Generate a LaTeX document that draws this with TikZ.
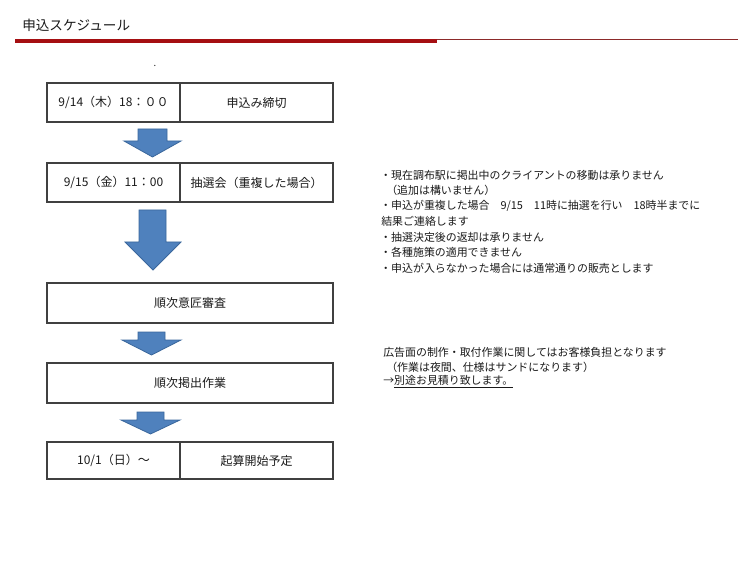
\documentclass[tikz,border=0pt]{standalone}
\usepackage{fontspec}
\setmainfont{Noto Sans CJK JP}
\definecolor{barred}{HTML}{A50F12}
\definecolor{thinred}{HTML}{8C2A2A}
\definecolor{boxline}{HTML}{404040}
\definecolor{arrowfill}{HTML}{4F81BD}
\definecolor{arrowline}{HTML}{3A679C}
\definecolor{txt}{HTML}{1A1A1A}
\begin{document}
\begin{tikzpicture}[x=0.75pt,y=-0.75pt,
  boxdraw/.style={draw=boxline,line width=0.8pt},
  celltext/.style={inner sep=0pt,text=txt,font=\fontsize{9pt}{11pt}\selectfont},
  blockarrow/.style={fill=arrowfill,draw=arrowline,line width=0.6pt,line join=miter},
  note/.style={anchor=west,inner sep=0pt,text=txt,font=\fontsize{8.2pt}{10pt}\selectfont},
  titletext/.style={anchor=west,inner sep=0pt,text=txt,font=\fontsize{10.2pt}{12pt}\selectfont}]
\useasboundingbox[fill=white] (0,0) rectangle (750,563);
% title and rule
\node[titletext] (title) at (22,25) {申込スケジュール};
\fill[barred] (15,39) rectangle (437,43.5);
\draw[thinred,line width=0.8pt] (437,39.5) -- (738,39.5);
\node[inner sep=0pt,text=txt,font=\scriptsize] (dot) at (155,66) {.};
% boxes
\draw[boxdraw] (47,83) rectangle (333,122);
\draw[boxdraw] (180,83) -- (180,122);
\node[celltext] (t1l) at (113.5,102.5) {9/14（木）18：００};
\node[celltext] (t1r) at (256.5,102.5) {申込み締切};

\draw[boxdraw] (47,163) rectangle (333,202);
\draw[boxdraw] (180,163) -- (180,202);
\node[celltext] (t2l) at (113.5,182.5) {9/15（金）11：00};
\node[celltext] (t2r) at (256.5,182.5) {抽選会（重複した場合）};

\draw[boxdraw] (47,283) rectangle (333,323);
\node[celltext] (t3) at (190,303) {順次意匠審査};

\draw[boxdraw] (47,363) rectangle (333,403);
\node[celltext] (t4) at (190,383) {順次掲出作業};

\draw[boxdraw] (47,442) rectangle (333,479);
\draw[boxdraw] (180,442) -- (180,479);
\node[celltext] (t5l) at (113.5,460.5) {10/1（日）～};
\node[celltext] (t5r) at (256.5,460.5) {起算開始予定};

% block arrows
\draw[blockarrow] (138,129) -- (167,129) -- (167,141) -- (181,141) -- (152.5,157) -- (124,141) -- (138,141) -- cycle;
\draw[blockarrow] (139,210) -- (166,210) -- (166,242) -- (181,242) -- (153,270) -- (125,242) -- (139,242) -- cycle;
\draw[blockarrow] (138,332) -- (165,332) -- (165,340) -- (181,340) -- (151.5,355) -- (122,340) -- (138,340) -- cycle;
\draw[blockarrow] (137,412) -- (164,412) -- (164,420) -- (180,420) -- (150.5,434) -- (121,420) -- (137,420) -- cycle;

% notes
\node[note] (n1) at (380,175) {・現在調布駅に掲出中のクライアントの移動は承りません};
\node[note] (n2) at (386,190.5) {（追加は構いません）};
\node[note] (n3) at (380,206) {・申込が重複した場合　9/15　11時に抽選を行い　18時半までに};
\node[note] (n4) at (381,221.5) {結果ご連絡します};
\node[note] (n5) at (380,237) {・抽選決定後の返却は承りません};
\node[note] (n6) at (380,252.5) {・各種施策の適用できません};
\node[note] (n7) at (380,268) {・申込が入らなかった場合には通常通りの販売とします};

\node[note] (m1) at (383,352) {広告面の制作・取付作業に関してはお客様負担となります};
\node[note] (m2) at (386,367) {（作業は夜間、仕様はサンドになります）};
\node[note] (m3) at (383,382) {→\underline{別途お見積り致します。}};
\end{tikzpicture}
\end{document}
